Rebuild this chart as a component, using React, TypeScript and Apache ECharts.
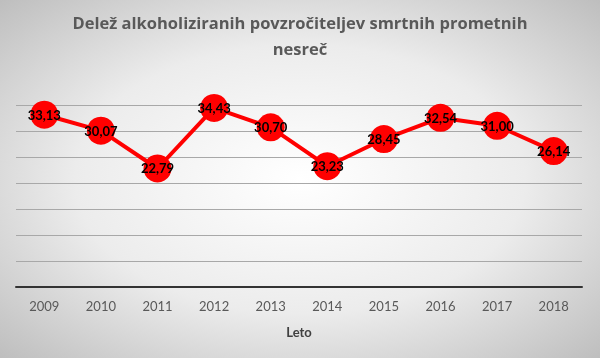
import React, { useEffect, useRef } from "react";
import * as echarts from "echarts";

const years = ["2009", "2010", "2011", "2012", "2013", "2014", "2015", "2016", "2017", "2018"];
const shares = [33.13, 30.07, 22.79, 34.43, 30.7, 23.23, 28.45, 32.54, 31.0, 26.14];
const titleText = "Delež alkoholiziranih povzročiteljev smrtnih prometnih\nnesreč";
const xAxisName = "Leto";

export default function App() {
  const ref = useRef<HTMLDivElement>(null);
  useEffect(() => {
    if (!ref.current) return;
    const chart = echarts.init(ref.current, null, { renderer: "svg" });
    const font = "Lato, 'Open Sans', sans-serif";
    chart.setOption({
      animation: false,
      backgroundColor: {
        type: "radial",
        x: 0.5,
        y: 0.5,
        r: 0.75,
        colorStops: [
          { offset: 0, color: "#ffffff" },
          { offset: 0.5, color: "#ececec" },
          { offset: 1, color: "#b8b8b8" },
        ],
      },
      title: {
        text: titleText,
        left: "center",
        top: 4,
        textStyle: {
          fontFamily: "'Open Sans', sans-serif",
          fontSize: 16.5,
          fontWeight: "bold",
          color: "#595959",
          lineHeight: 26,
        },
      },
      grid: { left: 16, right: 18, top: 105, bottom: 71 },
      xAxis: {
        type: "category",
        data: years,
        boundaryGap: true,
        name: xAxisName,
        nameLocation: "middle",
        nameGap: 38,
        nameTextStyle: { fontFamily: font, fontSize: 13, fontWeight: "bold", color: "#404040" },
        axisLine: { lineStyle: { color: "#333333", width: 2 } },
        axisTick: { show: false },
        axisLabel: { fontFamily: font, fontSize: 13, color: "#595959", margin: 12 },
      },
      yAxis: {
        type: "value",
        min: 0,
        max: 35,
        interval: 5,
        axisLabel: { show: false },
        axisLine: { show: false },
        axisTick: { show: false },
        splitLine: { lineStyle: { color: "#a8a8a8", width: 1 } },
      },
      series: [
        {
          type: "line",
          data: shares,
          symbol: "circle",
          symbolSize: 28,
          itemStyle: { color: "#ff0000" },
          lineStyle: { color: "#ff0000", width: 4 },
          label: {
            show: true,
            position: "inside",
            fontFamily: font,
            fontSize: 13,
            fontWeight: "bold",
            color: "#000000",
            formatter: (p: any) => Number(p.value).toFixed(2).replace(".", ","),
          },
        },
      ],
    });
    return () => chart.dispose();
  }, []);
  return (
    <div
      ref={ref}
      style={{ position: "fixed", left: 0, top: 0, width: 600, height: 358 }}
    />
  );
}
